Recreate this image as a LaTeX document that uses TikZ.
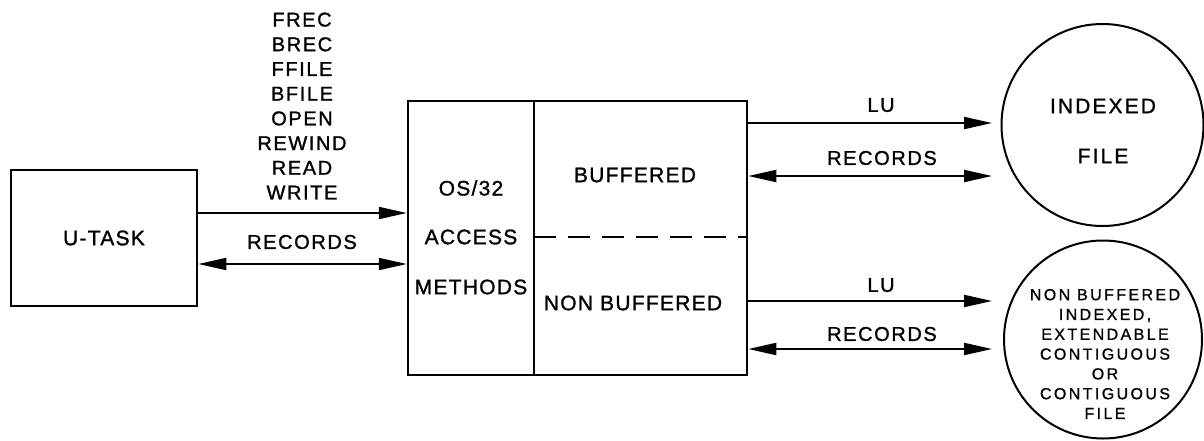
\documentclass[tikz,border=0pt]{standalone}
\usepackage{fontspec}
\setmainfont{Liberation Sans}
\newfontfamily\lblfont[LetterSpace=8,FakeBold=1.2]{Liberation Sans}
\newfontfamily\boxfont[LetterSpace=6,FakeBold=1.2]{Liberation Sans}
\newfontfamily\filefont[LetterSpace=10,FakeBold=1.2]{Liberation Sans}
\newfontfamily\smallfont[LetterSpace=15,FakeBold=1]{Liberation Sans}
\usetikzlibrary{arrows.meta}
\begin{document}
\begin{tikzpicture}[x=1pt,y=-1pt,
  frame/.style={draw,line width=2.5pt,inner sep=0pt},
  flow/.style={line width=2pt,-{Triangle[length=28pt,width=12pt]}},
  both/.style={line width=2pt,{Triangle[length=28pt,width=12pt]}-{Triangle[length=28pt,width=12pt]}},
  lbl/.style={inner sep=0pt,font=\lblfont\fontsize{20}{24.7}\selectfont,align=center},
  boxlbl/.style={inner sep=0pt,font=\boxfont\fontsize{21}{25}\selectfont,align=center},
  filelbl/.style={inner sep=0pt,font=\filefont\fontsize{21}{50}\selectfont,align=center},
  smalllbl/.style={inner sep=0pt,font=\smallfont\fontsize{16}{19.8}\selectfont,align=center},
  disc/.style={draw,circle,line width=2pt,inner sep=0pt,minimum size=#1}]
\useasboundingbox (0,0) rectangle (1204,440);

% user task
\node[frame,minimum width=186pt,minimum height=136pt] (utask) at (104,238) {};
\node[boxlbl] (utasklbl) at (104,238) {U-TASK};

% access methods block
\node[frame,minimum width=339pt,minimum height=274pt] (am) at (577.5,238) {};
\coordinate (divtop) at (534,101);
\coordinate (divbot) at (534,375);
\draw[line width=2.5pt] (divtop) -- (divbot);
\coordinate (dashl) at (534,237);
\draw[line width=2pt,dash pattern=on 22pt off 12pt] (dashl) -- (dashl -| am.east);
\node[boxlbl] (os) at (471,188) {OS/32};
\node[boxlbl] (acc) at (471,237) {ACCESS};
\node[boxlbl] (meth) at (471,287) {METHODS};
\node[boxlbl] (buf) at (635,175) {BUFFERED};
\node[boxlbl] (nbuf) at (633,303) {NON BUFFERED};

% files
\node[disc=202pt] (ixf) at (1102.5,125) {};
\node[filelbl] (ixfl) at (1103,131) {INDEXED\\FILE};
\node[disc=198pt] (nbf) at (1103,339.5) {};
\node[smalllbl] (nbfl) at (1105,354) {NON BUFFERED\\INDEXED,\\EXTENDABLE\\CONTIGUOUS\\OR\\CONTIGUOUS\\FILE};

% user task <-> access methods
\node[lbl] (calls) at (302,106) {FREC\\BREC\\FFILE\\BFILE\\OPEN\\REWIND\\READ\\WRITE};
\draw[flow] (utask.east |- 0,213) -- (am.west |- 0,213);
\node[lbl] (rec1) at (302,242) {RECORDS};
\draw[both] (utask.east |- 0,264) -- (am.west |- 0,264);

% access methods <-> files
\coordinate (t1) at (992,123);
\coordinate (t2) at (992,176);
\coordinate (t3) at (992,301);
\coordinate (t4) at (992,349);
\node[lbl] (lu1) at (881,105) {LU};
\draw[flow] (am.east |- t1) -- (t1);
\node[lbl] (rec2) at (882,158) {RECORDS};
\draw[both] (am.east |- t2) -- (t2);
\node[lbl] (lu2) at (881,285) {LU};
\draw[flow] (am.east |- t3) -- (t3);
\node[lbl] (rec3) at (882,334) {RECORDS};
\draw[both] (am.east |- t4) -- (t4);
\end{tikzpicture}
\end{document}
